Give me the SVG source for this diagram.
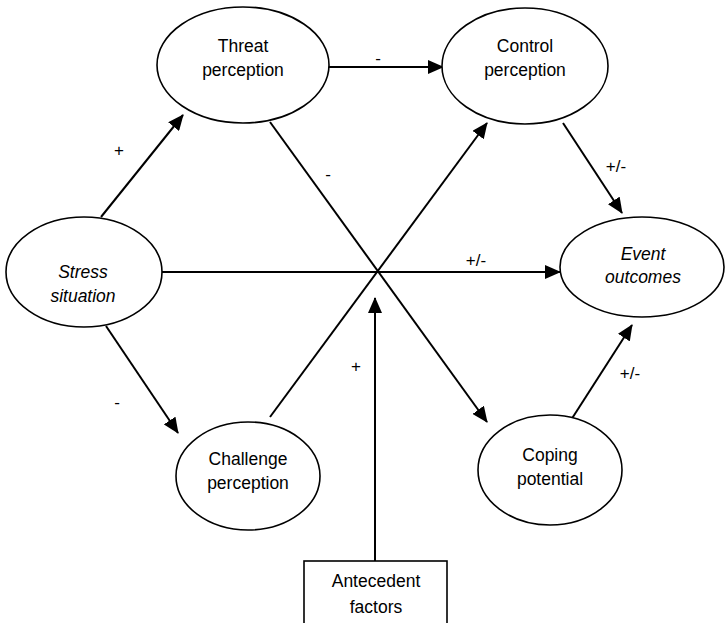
<svg xmlns="http://www.w3.org/2000/svg" width="725" height="623" viewBox="0 0 725 623">
<style>
.n{fill:#fff;stroke:#000;stroke-width:1.6}
.t{font-family:"Liberation Sans",Arial,sans-serif;font-size:17.5px;fill:#000;text-anchor:middle}
.i{font-style:italic}
.c{stroke:#000;stroke-width:2;fill:none}
.a{marker-end:url(#ah)}
.l{font-family:"Liberation Sans",Arial,sans-serif;font-size:17px;fill:#000;text-anchor:middle}
</style>
<defs>
<marker id="ah" markerUnits="userSpaceOnUse" markerWidth="16" markerHeight="14" viewBox="0 0 16 14" refX="15" refY="7" orient="auto">
<path d="M0,0 L16,7 L0,14 Z" fill="#000"/>
</marker>
</defs>
<rect width="725" height="623" fill="#fff"/>
<g id="connectors">
<line class="c a" x1="328" y1="67" x2="443" y2="67"/>
<line class="c a" x1="101" y1="217" x2="183" y2="115"/>
<line class="c a" x1="106" y1="326" x2="178" y2="433"/>
<line class="c a" x1="270" y1="122" x2="487" y2="422"/>
<line class="c a" x1="270" y1="417" x2="487" y2="123"/>
<line class="c a" x1="162" y1="272" x2="560" y2="272"/>
<line class="c a" x1="563" y1="123" x2="622" y2="213"/>
<line class="c a" x1="571" y1="420" x2="632" y2="325"/>
<line class="c a" x1="375" y1="561" x2="375" y2="298"/>
<text class="l" x="378" y="64">-</text>
<text class="l" x="119" y="156">+</text>
<text class="l" x="117" y="408">-</text>
<text class="l" x="328" y="180">-</text>
<text class="l" x="356" y="372">+</text>
<text class="l" x="476" y="266">+/-</text>
<text class="l" x="616" y="172">+/-</text>
<text class="l" x="630" y="379">+/-</text>
</g>
<g id="threat">
<ellipse class="n" cx="243" cy="65" rx="86" ry="58"/>
<text class="t" x="243" y="52">Threat</text>
<text class="t" x="243" y="76">perception</text>
</g>
<g id="control">
<ellipse class="n" cx="525" cy="66" rx="83" ry="58"/>
<text class="t" x="525" y="52">Control</text>
<text class="t" x="525" y="76">perception</text>
</g>
<g id="stress">
<ellipse class="n" cx="84" cy="272" rx="78" ry="55"/>
<text class="t i" x="83" y="278">Stress</text>
<text class="t i" x="83" y="302">situation</text>
</g>
<g id="event">
<ellipse class="n" cx="642" cy="267" rx="82" ry="50"/>
<text class="t i" x="643" y="260">Event</text>
<text class="t i" x="643" y="283">outcomes</text>
</g>
<g id="challenge">
<ellipse class="n" cx="248" cy="476" rx="72" ry="54"/>
<text class="t" x="248" y="465">Challenge</text>
<text class="t" x="248" y="489">perception</text>
</g>
<g id="coping">
<ellipse class="n" cx="550" cy="470" rx="72" ry="55"/>
<text class="t" x="550" y="461">Coping</text>
<text class="t" x="550" y="485">potential</text>
</g>
<g id="antecedent">
<rect class="n" x="304" y="561" width="143" height="70"/>
<text class="t" x="376" y="587">Antecedent</text>
<text class="t" x="376" y="613">factors</text>
</g>
</svg>
